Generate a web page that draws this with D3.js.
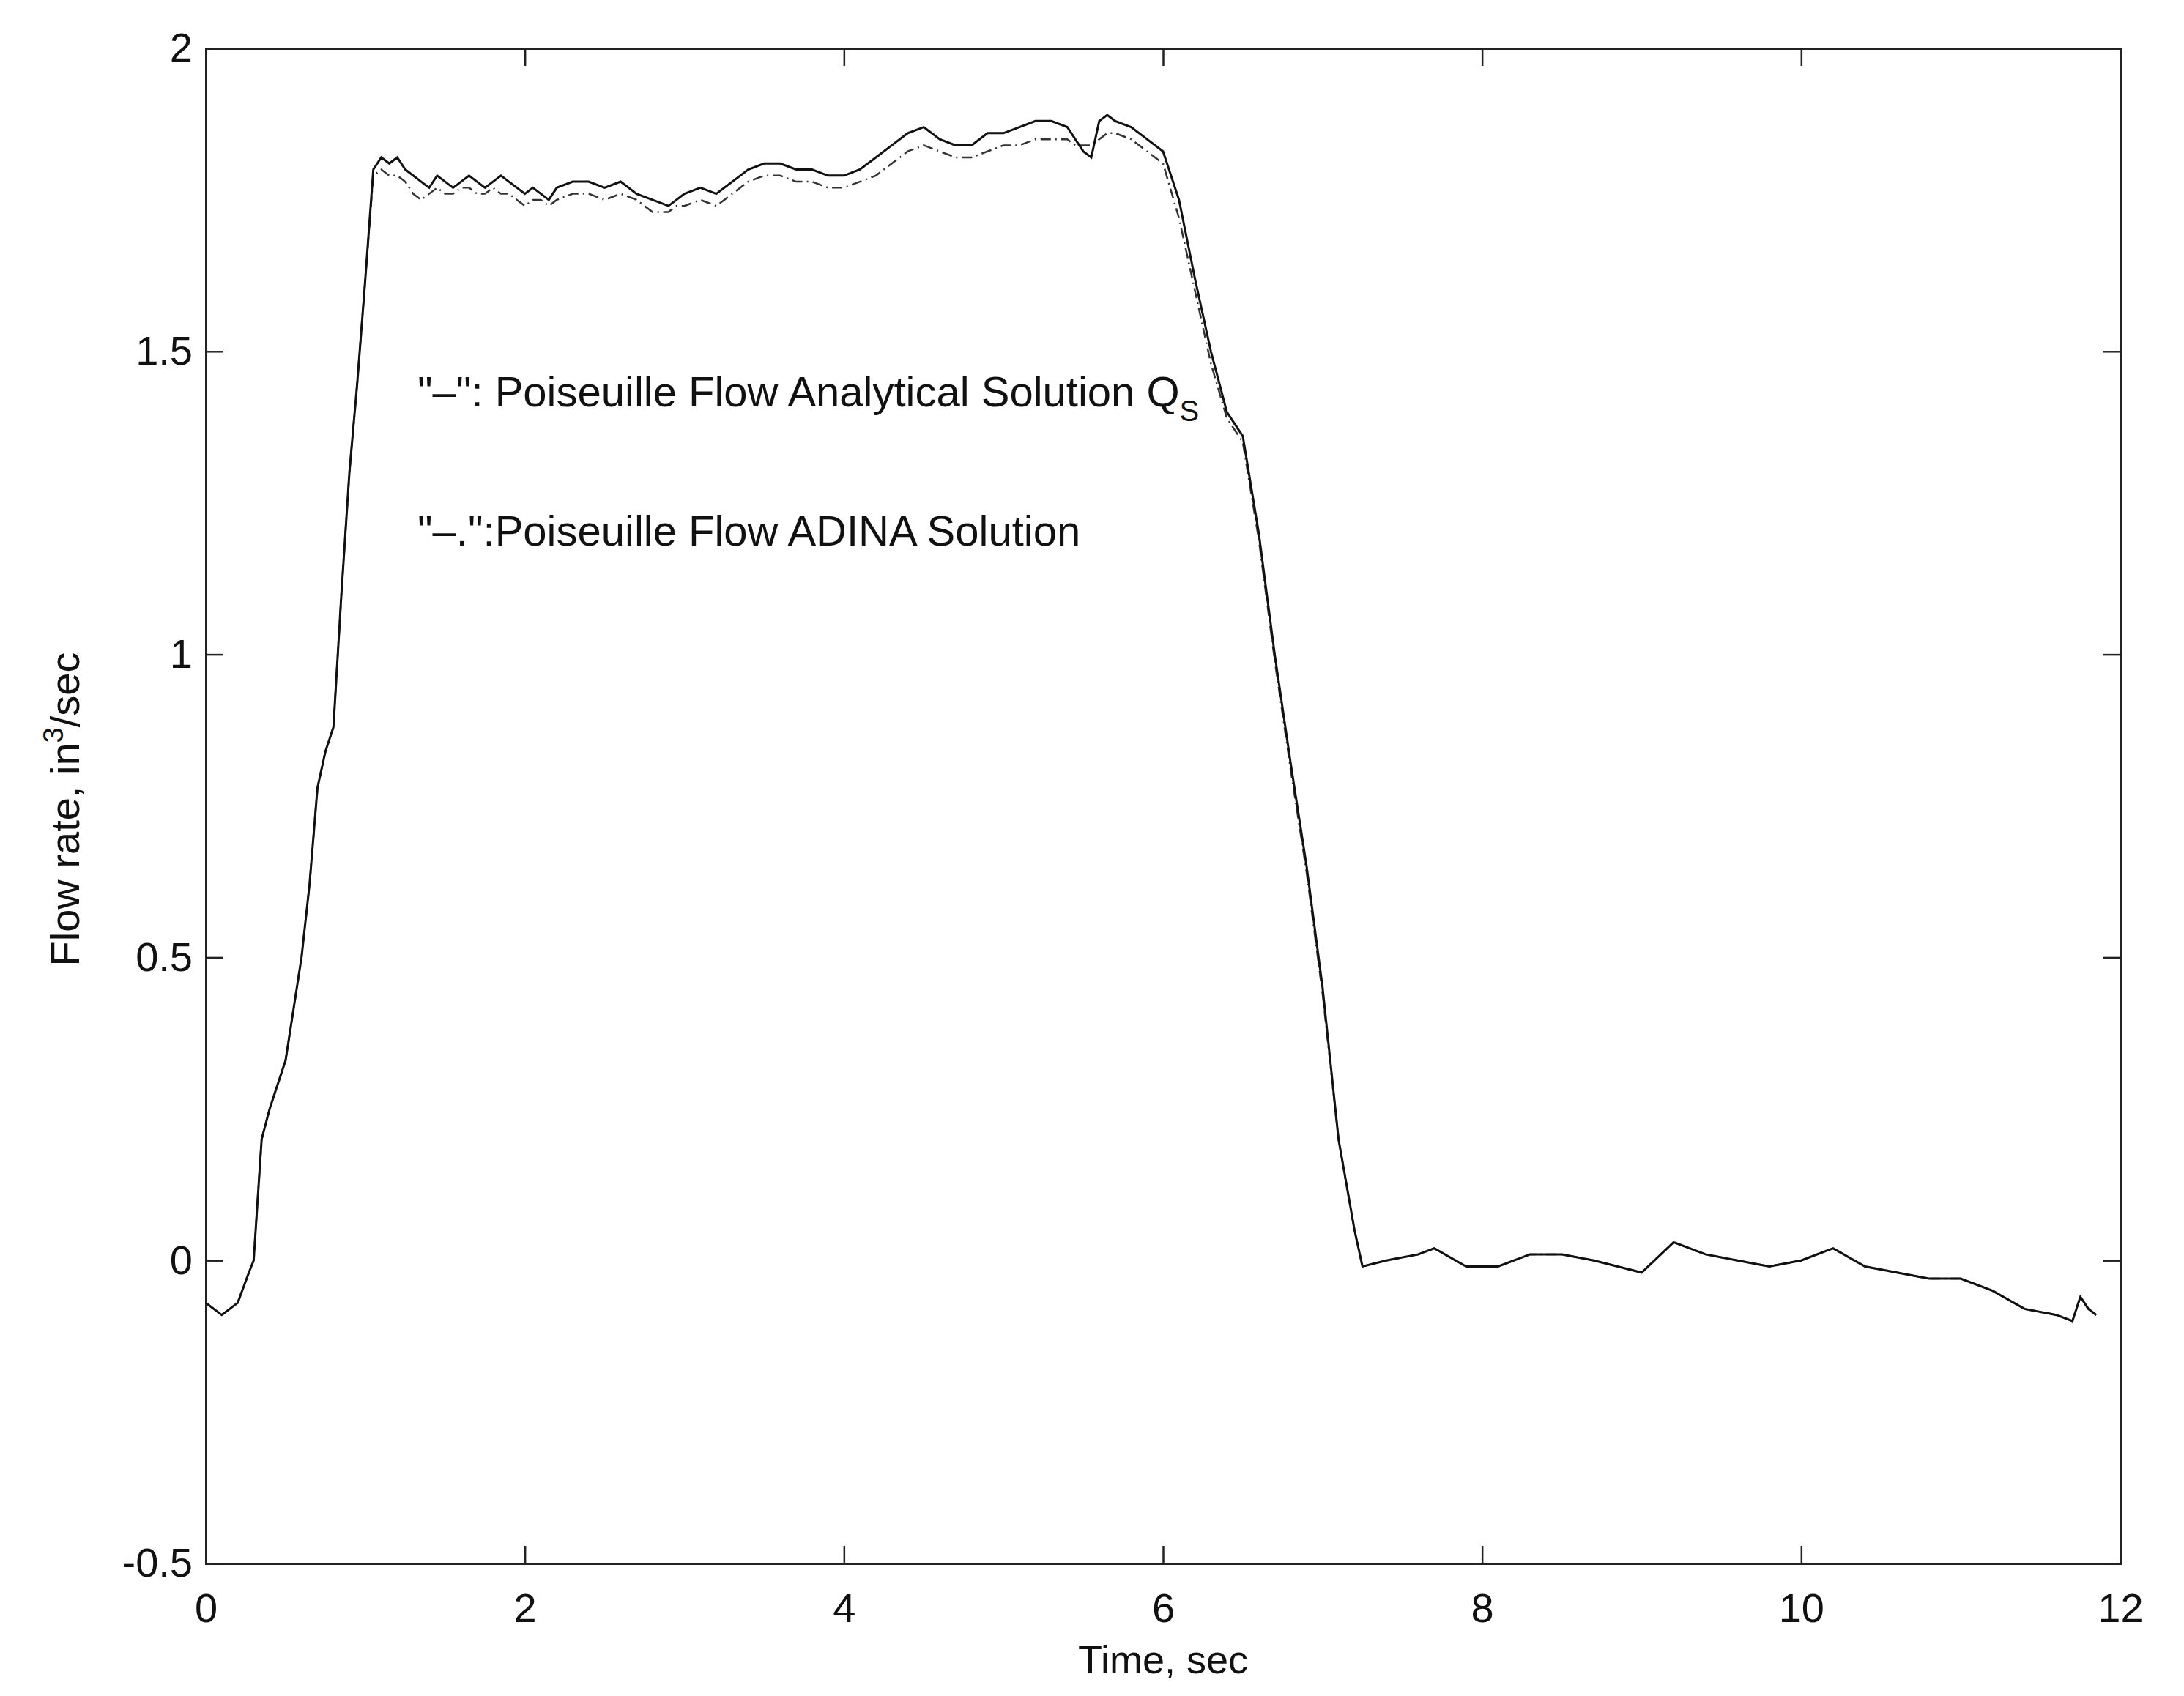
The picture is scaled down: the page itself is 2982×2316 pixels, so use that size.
<!DOCTYPE html>
<html><head><meta charset="utf-8">
<script src="https://cdn.jsdelivr.net/npm/d3@7"></script>
<style>body{margin:0;background:#fff}</style></head>
<body><svg id="c" width="2982" height="2316"></svg>
<script>
const time = [0,0.1,0.2,0.27,0.3,0.35,0.4,0.5,0.6,0.65,0.7,0.75,0.8,0.85,0.9,0.95,1.0,1.05,
1.1,1.15,1.2,1.25,1.3,1.35,1.4,1.45,1.5,1.55,1.6,1.65,1.7,1.75,1.8,1.85,1.9,1.95,2.0,2.05,2.1,2.15,2.2,2.3,2.4,2.5,2.6,2.7,2.8,2.9,2.95,3.0,3.1,3.2,3.3,3.4,3.5,3.6,3.7,3.8,3.9,4.0,4.1,4.2,4.3,4.4,4.5,4.6,4.7,4.8,4.9,5.0,5.1,5.2,5.3,5.4,5.45,5.5,5.55,5.6,5.65,5.7,5.8,5.9,6.0,
6.1,6.2,6.3,6.4,6.5,6.6,6.7,6.8,6.9,7.0,7.1,7.2,7.25,7.4,7.6,7.7,7.9,8.1,8.3,8.5,8.7,9.0,9.2,9.4,9.6,9.8,10.0,10.2,10.4,10.6,10.8,11.0,11.2,11.4,11.6,11.7,11.75,11.8,11.85];
const analytical = [-0.07,-0.09,-0.07,-0.02,0.0,0.2,0.25,0.33,0.5,0.62,0.78,0.84,0.88,1.1,1.3,1.45,1.62,1.8,
1.82,1.81,1.82,1.80,1.79,1.78,1.77,1.79,1.78,1.77,1.78,1.79,1.78,1.77,1.78,1.79,1.78,1.77,1.76,1.77,1.76,1.75,1.77,1.78,1.78,1.77,1.78,1.76,1.75,1.74,1.75,1.76,1.77,1.76,1.78,1.80,1.81,1.81,1.80,1.80,1.79,1.79,1.80,1.82,1.84,1.86,1.87,1.85,1.84,1.84,1.86,1.86,1.87,1.88,1.88,1.87,1.85,1.83,1.82,1.88,1.89,1.88,1.87,1.85,1.83,
1.75,1.62,1.50,1.40,1.36,1.20,1.0,0.82,0.65,0.45,0.2,0.05,-0.01,0.0,0.01,0.02,-0.01,-0.01,0.01,0.01,0.0,-0.02,0.03,0.01,0.0,-0.01,0.0,0.02,-0.01,-0.02,-0.03,-0.03,-0.05,-0.08,-0.09,-0.1,-0.06,-0.08,-0.09];
const adina = [-0.07,-0.09,-0.07,-0.02,0.0,0.2,0.25,0.33,0.5,0.62,0.78,0.84,0.88,1.1,1.3,1.45,1.62,1.79,
1.80,1.79,1.79,1.78,1.76,1.75,1.76,1.77,1.76,1.76,1.77,1.77,1.76,1.76,1.77,1.76,1.76,1.75,1.74,1.75,1.75,1.74,1.75,1.76,1.76,1.75,1.76,1.75,1.73,1.73,1.74,1.74,1.75,1.74,1.76,1.78,1.79,1.79,1.78,1.78,1.77,1.77,1.78,1.79,1.81,1.83,1.84,1.83,1.82,1.82,1.83,1.84,1.84,1.85,1.85,1.85,1.84,1.84,1.84,1.85,1.86,1.86,1.85,1.83,1.81,
1.72,1.60,1.48,1.39,1.35,1.19,0.99,0.81,0.64,0.44,0.2,0.05,-0.01,0.0,0.01,0.02,-0.01,-0.01,0.01,0.01,0.0,-0.02,0.03,0.01,0.0,-0.01,0.0,0.02,-0.01,-0.02,-0.03,-0.03,-0.05,-0.08,-0.09,-0.1,-0.06,-0.08,-0.09];
const xTicks = [0,2,4,6,8,10,12];
const yTicks = [-0.5,0,0.5,1,1.5,2];

const svg = d3.select("#c");
const L=281,R=2895,T=66,B=2135;
const x = d3.scaleLinear().domain([0,12]).range([L,R]);
const y = d3.scaleLinear().domain([-0.5,2]).range([B,T]);
const tf = "'Liberation Sans Narrow','Liberation Sans',sans-serif";
const fmt = d => d===-0.5?"-0.5":String(d);

svg.append("g").attr("transform",`translate(0,${B})`).call(d3.axisBottom(x).tickValues(xTicks).tickSize(-24).tickPadding(40).tickFormat(fmt));
svg.append("g").attr("transform",`translate(0,${T})`).call(d3.axisTop(x).tickValues(xTicks).tickSize(-24).tickFormat(""));
svg.append("g").attr("transform",`translate(${L},0)`).call(d3.axisLeft(y).tickValues(yTicks).tickSize(-24).tickPadding(18).tickFormat(fmt));
svg.append("g").attr("transform",`translate(${R},0)`).call(d3.axisRight(y).tickValues(yTicks).tickSize(-24).tickFormat(""));
svg.selectAll(".domain").attr("stroke","#222").attr("stroke-width",3);
svg.selectAll(".tick line").attr("stroke","#222").attr("stroke-width",2.5);
svg.selectAll(".tick text").attr("font-family",tf).attr("font-size",56).attr("fill","#111");

const pts = (v)=>time.map((t,i)=>[t,v[i]]);
const line = d3.line().x(d=>x(d[0])).y(d=>y(d[1]));
svg.append("path").attr("d",line(pts(adina))).attr("fill","none").attr("stroke","#333").attr("stroke-width",2.5).attr("stroke-dasharray","14,6,2,6");
svg.append("path").attr("d",line(pts(analytical))).attr("fill","none").attr("stroke","#111").attr("stroke-width",3);

const lf="'Liberation Sans',sans-serif";
const t1 = svg.append("text").attr("x",570).attr("y",555).attr("font-family",lf).attr("font-size",58).attr("fill","#111");
t1.append("tspan").text('"–": Poiseuille Flow Analytical Solution Q');
t1.append("tspan").attr("font-size",40).attr("dy",20).text("S");
svg.append("text").attr("x",570).attr("y",745).attr("font-family",lf).attr("font-size",58).attr("fill","#111").text('"–.":Poiseuille Flow ADINA Solution');

svg.append("text").attr("x",(L+R)/2).attr("y",2285).attr("text-anchor","middle").attr("font-family",lf).attr("font-size",54).attr("fill","#111").text("Time, sec");
const yl = svg.append("text").attr("transform","translate(108,1105) rotate(-90)").attr("text-anchor","middle").attr("font-family",lf).attr("font-size",56).attr("fill","#111");
yl.append("tspan").text("Flow rate, in");
yl.append("tspan").attr("font-size",38).attr("dy",-22).text("3");
yl.append("tspan").attr("dy",22).text("/sec");
</script></body></html>
